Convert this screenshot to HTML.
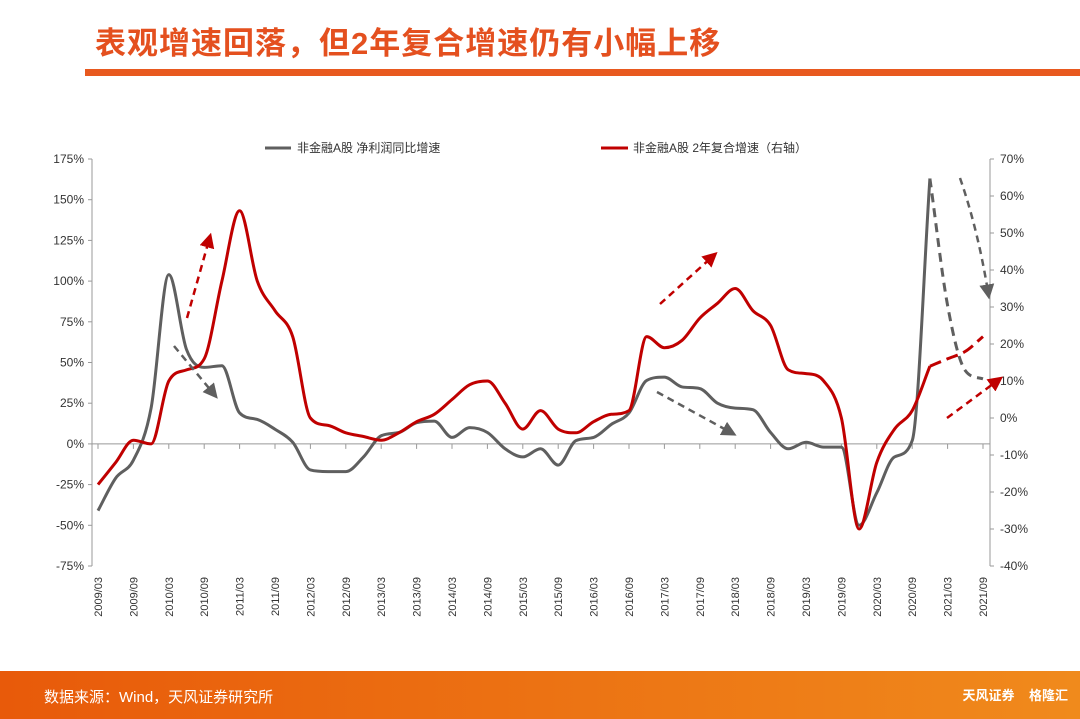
<!DOCTYPE html>
<html><head><meta charset="utf-8"><style>
body{margin:0;width:1080px;height:719px;overflow:hidden;background:#fff;font-family:"Liberation Sans","Noto Sans CJK SC",sans-serif;position:relative}
#title{position:absolute;left:95px;top:18px;font-size:31px;font-weight:bold;color:#E4501F;letter-spacing:1px}
#bar{position:absolute;left:85px;top:69px;width:995px;height:7px;background:#E8591F}
#footer{position:absolute;left:0;top:671px;width:1080px;height:48px;background:linear-gradient(90deg,#E85A0A,#F08A1C)}
#src{position:absolute;left:44px;top:15px;color:#fff;font-size:15px}
#logo{position:absolute;right:12px;top:14px;color:#fff;font-size:13px;font-weight:bold}
svg{position:absolute;left:0;top:0}
</style></head><body>
<div id="title">表观增速回落，但2年复合增速仍有小幅上移</div>
<div id="bar"></div>
<svg id="chart" width="1080" height="671"></svg>
<div id="footer">
<div id="src">数据来源：Wind，天风证券研究所</div>
<div id="logo">天风证券 &nbsp;&nbsp; 格隆汇</div>
</div>
<script>
const categories=[];for(let y=2009;y<=2021;y++)for(const q of ["03","06","09","12"]){if(y===2021&&q==="12")break;categories.push(y+"/"+q);}
const profitYoY=[-41,-21,-10,22,104,58,47,48,19,15,9,1,-16,-17,-17,-8,5,7,13,14,4,10,7,-3,-8,-3,-13,2,4,12,19,39,41,35,34,25,22,21,7,-3,1,-2,-2,-50,-30,-8,2,163,85,45,40];
const cagr2y=[-18,-12,-6,-7,10,13,16,37,56,37,29,22,0,-2,-4,-5,-6,-4,-1,1,5,9,10,4,-3,2,-3,-4,-1,1,2,22,19,21,27,31,35,29,25,13,12,10,0,-30,-12,-3,2,14,16,18,22];
const leftTicks=[175,150,125,100,75,50,25,0,-25,-50,-75];
const rightTicks=[70,60,50,40,30,20,10,0,-10,-20,-30,-40];
const svg=document.getElementById('chart');const NS='http://www.w3.org/2000/svg';
const X0=98,DX=17.7,T=159,B=566;
const xs=i=>X0+i*DX;
const yl=v=>T+(175-v)/250*(B-T);
const yr=v=>T+(70-v)/110*(B-T);
function el(t,a,p){const e=document.createElementNS(NS,t);for(const k in a)e.setAttribute(k,a[k]);(p||svg).appendChild(e);return e;}
function txt(s,a){const e=el('text',a);e.textContent=s;return e;}
let e=el('line',{x1:92,y1:T,x2:92,y2:B,stroke:'#999'});
e=el('line',{x1:990,y1:T,x2:990,y2:B,stroke:'#999'});
e=el('line',{x1:92,y1:yl(0),x2:990,y2:yl(0),stroke:'#999'});
leftTicks.forEach(v=>{el('line',{x1:88,x2:92,y1:yl(v),y2:yl(v),stroke:'#999'});
const t=txt(v+'%',{x:84,y:yl(v)+4,'text-anchor':'end','font-size':12,fill:'#333'});
});
rightTicks.forEach(v=>{el('line',{x1:990,x2:994,y1:yr(v),y2:yr(v),stroke:'#999'});
const t=txt(v+'%',{x:1000,y:yr(v)+4,'font-size':12,fill:'#333'});
});
categories.forEach((c,i)=>{if(i%2)return;const x=xs(i);
el('line',{x1:x,x2:x,y1:yl(0),y2:yl(0)+5,stroke:'#999'});
const t=txt(c,{x:x+4,y:577,'font-size':11,fill:'#333','text-anchor':'end',transform:`rotate(-90 ${x+4} 577)`});
});
function path(pts){const n=pts.length;if(n<2)return '';const d=[],m=[];
for(let i=0;i<n-1;i++)d.push((pts[i+1][1]-pts[i][1])/(pts[i+1][0]-pts[i][0]));
m[0]=d[0];m[n-1]=d[n-2];
for(let i=1;i<n-1;i++)m[i]=(d[i-1]*d[i]<=0)?0:(d[i-1]+d[i])/2;
for(let i=0;i<n-1;i++){if(d[i]===0){m[i]=0;m[i+1]=0;continue;}const a=m[i]/d[i],b=m[i+1]/d[i],s=a*a+b*b;if(s>9){const t=3/Math.sqrt(s);m[i]=t*a*d[i];m[i+1]=t*b*d[i];}}
let p=`M${pts[0][0]},${pts[0][1]}`;
for(let i=0;i<n-1;i++){const h=(pts[i+1][0]-pts[i][0])/3;
p+=` C${pts[i][0]+h},${pts[i][1]+m[i]*h} ${pts[i+1][0]-h},${pts[i+1][1]-m[i+1]*h} ${pts[i+1][0]},${pts[i+1][1]}`;}return p;}
const gp=profitYoY.map((v,i)=>[xs(i),yl(v)]),rp=cagr2y.map((v,i)=>[xs(i),yr(v)]);
const S=47;
e=el('path',{d:path(gp.slice(0,S+1)),fill:'none',stroke:'#5f5f5f','stroke-width':3});
e=el('path',{d:path(gp.slice(S)),fill:'none',stroke:'#5f5f5f','stroke-width':3,'stroke-dasharray':'9,6'});
e=el('path',{d:path(rp.slice(0,S+1)),fill:'none',stroke:'#C00000','stroke-width':3});
e=el('path',{d:path(rp.slice(S)),fill:'none',stroke:'#C00000','stroke-width':3,'stroke-dasharray':'12,6'});
const defs=el('defs',{});
[['ar','#C00000'],['ag','#5f5f5f']].forEach(([id,c])=>{const m=el('marker',{id,markerWidth:6,markerHeight:6,refX:3,refY:3,orient:'auto'},defs);el('path',{d:'M0,0 L6,3 L0,6 Z',fill:c},m);});
[[187,318,209,240,'r'],[174,346,213,393,'g'],[660,304,712,257,'r'],[657,392,730,432,'g'],[947,418,997,381,'r']].forEach(a=>{
const c=a[4]=='r'?'#C00000':'#5f5f5f';
const l=el('line',{x1:a[0],y1:a[1],x2:a[2],y2:a[3],stroke:c,'stroke-width':2.5,'stroke-dasharray':'7,5','marker-end':`url(#a${a[4]})`});
});
e=el('path',{d:'M960,178 Q978,230 988,292',fill:'none',stroke:'#5f5f5f','stroke-width':2.5,'stroke-dasharray':'7,5','marker-end':'url(#ag)'});
el('line',{x1:265,x2:291,y1:148,y2:148,stroke:'#5f5f5f','stroke-width':3});
e=txt('非金融A股 净利润同比增速',{x:297,y:152,'font-size':12,fill:'#333'});
el('line',{x1:601,x2:628,y1:148,y2:148,stroke:'#C00000','stroke-width':3});
e=txt('非金融A股 2年复合增速（右轴）',{x:633,y:152,'font-size':12,fill:'#333'});
</script>
</body></html>
